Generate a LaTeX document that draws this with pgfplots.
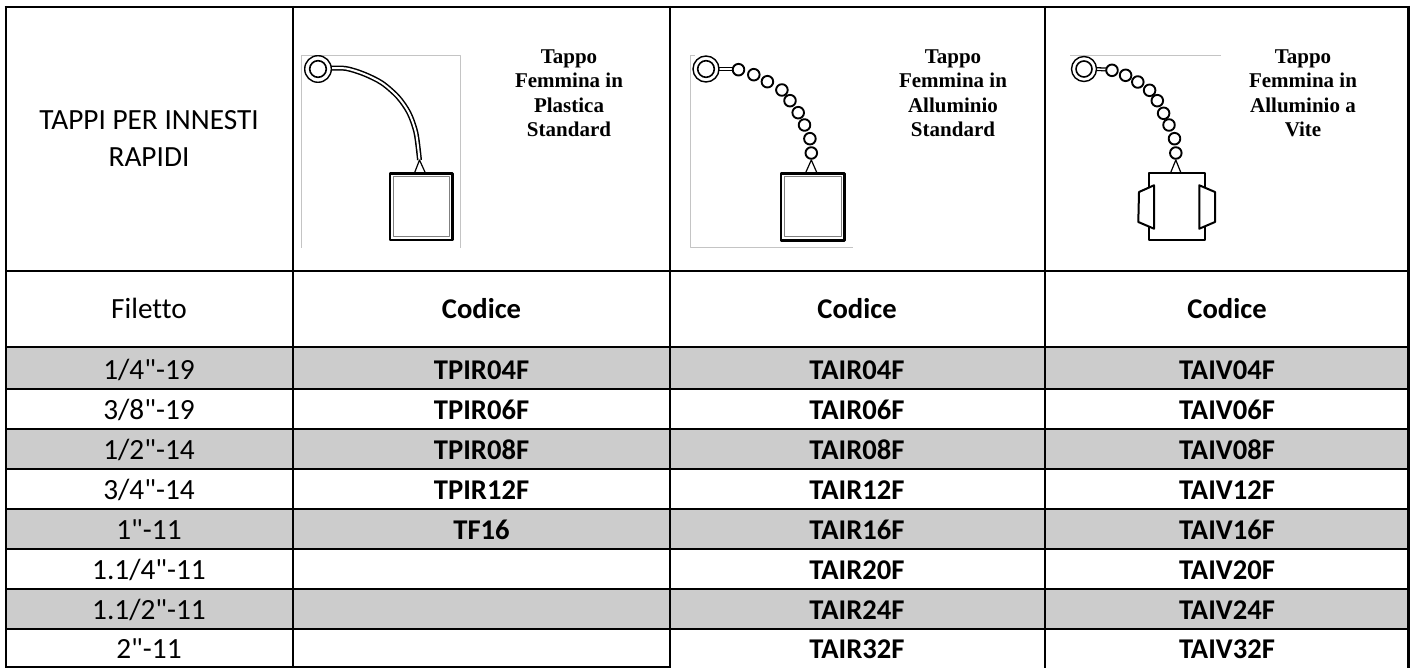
\documentclass[border=0pt]{standalone}
\usepackage{pgfplots}
\pgfplotsset{compat=1.18}
\usepackage{fontspec}
\setmainfont{Carlito}
\newfontfamily\carl[Ligatures=NoCommon]{Carlito}
\newfontfamily\tms{Liberation Serif}
\definecolor{band}{HTML}{CCCCCC}
\definecolor{frame}{HTML}{C4C4C4}
\newcommand{\sz}{\fontsize{29.3}{30}\selectfont\carl}
\newcommand{\szb}{\fontsize{28.6}{30}\selectfont\carl\bfseries}
\newcommand{\szr}{\fontsize{21}{24}\selectfont}
\newcommand{\cell}[3]{\node[anchor=base,inner sep=0pt] at (axis cs:#1,#2) {#3};}
\begin{document}
\begin{tikzpicture}
\path[use as bounding box] (0,0) rectangle (1410pt,668pt);
\begin{axis}[
  at={(0,0)}, anchor=south west,
  scale only axis, width=1410pt, height=668pt,
  xmin=0, xmax=1410, ymin=0, ymax=668, y dir=reverse,
  hide axis, clip=true,
  every axis plot/.append style={mark=none, line join=round}
]
% grey bands
\addplot[fill=band,draw=none] coordinates {(6,347)(1408,347)(1408,389)(6,389)} --cycle;
\addplot[fill=band,draw=none] coordinates {(6,429)(1408,429)(1408,469)(6,469)} --cycle;
\addplot[fill=band,draw=none] coordinates {(6,509)(1408,509)(1408,549)(6,549)} --cycle;
\addplot[fill=band,draw=none] coordinates {(6,589)(1408,589)(1408,629)(6,629)} --cycle;
% horizontal rules
\addplot[black,line width=2.3pt] coordinates {(4.5,7)(1410,7)};
\addplot[black,line width=2.3pt] coordinates {(5,271)(1409,271)};
\addplot[black,line width=2.3pt] coordinates {(5,347)(1409,347)};
\addplot[black,line width=2pt] coordinates {(5,389)(1409,389)};
\addplot[black,line width=2pt] coordinates {(5,429)(1409,429)};
\addplot[black,line width=2pt] coordinates {(5,469)(1409,469)};
\addplot[black,line width=2pt] coordinates {(5,509)(1409,509)};
\addplot[black,line width=2pt] coordinates {(5,549)(1409,549)};
\addplot[black,line width=2pt] coordinates {(5,589)(1409,589)};
\addplot[black,line width=2pt] coordinates {(5,629)(1409,629)};
\addplot[black,line width=1.5pt] coordinates {(5,667)(670,667)};
% vertical rules
\addplot[black,line width=2pt] coordinates {(6,6)(6,668)};
\addplot[black,line width=2pt] coordinates {(293,6)(293,668)};
\addplot[black,line width=2pt] coordinates {(670,6)(670,668)};
\addplot[black,line width=2pt] coordinates {(1045,6)(1045,668)};
\addplot[black,line width=2.5pt] coordinates {(1408.7,6)(1408.7,668)};
% grey picture frames
\addplot[frame,line width=0.9pt] coordinates {(301,248)(301,55.5)(460.5,55.5)(460.5,248)};
\addplot[frame,line width=0.9pt] coordinates {(695,55.5)(690.5,55.5)(690.5,247.5)(853,247.5)};
\addplot[frame,line width=0.9pt] coordinates {(1070,55.5)(1220.5,55.5)};
% picture 1: cord
\addplot[black,smooth,line width=5pt] coordinates {(328,68.3)(346,68.5)(364,74)(382,83)(398,97)(409,113)(416,133)(419.5,160)};
\addplot[white,smooth,line width=2pt] coordinates {(328,68.3)(346,68.5)(364,74)(382,83)(398,97)(409,113)(416,133)(419.5,160)};
\addplot[black,line width=1.2pt] coordinates {(414.5,173)(419.5,160)(425.4,173)};
\addplot[only marks,mark=*,mark size=13.3pt,mark options={draw=black,fill=white,line width=1.4pt}] coordinates {(318,69)};
\addplot[only marks,mark=*,mark size=8.3pt,mark options={draw=black,fill=white,line width=1.6pt}] coordinates {(318,69)};
\addplot[black,line width=2.4pt,fill=white] coordinates {(390,173.5)(452.5,173.5)(452.5,240)(390,240)} --cycle;
\addplot[gray,line width=1pt] coordinates {(393.5,177)(449,177)(449,236.5)(393.5,236.5)} --cycle;
% picture 2: chain
\addplot[black,line width=4pt] coordinates {(718,69)(734,69)};
\addplot[white,line width=1.4pt] coordinates {(718,69)(734,69)};
\addplot[black,line width=1.2pt] coordinates {(805.5,173)(811.3,160)(817,173)};
\addplot[only marks,mark=*,mark size=5.8pt,mark options={draw=black,fill=white,line width=1.9pt}] coordinates {(738.5,69.7)(753.8,74.7)(767.4,81.7)(781.9,90)(790,100.7)(798.2,112.7)(804.5,125)(809.9,138.7)(811.3,153)};
\addplot[only marks,mark=*,mark size=13pt,mark options={draw=black,fill=white,line width=1.4pt}] coordinates {(706,69)};
\addplot[only marks,mark=*,mark size=8.3pt,mark options={draw=black,fill=white,line width=1.6pt}] coordinates {(706,69)};
\addplot[black,line width=2.4pt,fill=white] coordinates {(781,173.5)(844.5,173.5)(844.5,240.5)(781,240.5)} --cycle;
\addplot[gray,line width=1pt] coordinates {(784.5,177)(841,177)(841,237)(784.5,237)} --cycle;
% picture 3: chain and threaded cap
\addplot[black,line width=4pt] coordinates {(1094,69)(1108,69.5)};
\addplot[white,line width=1.4pt] coordinates {(1094,69)(1108,69.5)};
\addplot[black,line width=1.2pt] coordinates {(1170.5,173)(1175.8,160)(1181,173)};
\addplot[only marks,mark=*,mark size=5.8pt,mark options={draw=black,fill=white,line width=1.9pt}] coordinates {(1112,70.3)(1125.6,75.3)(1137.8,82)(1149.6,90.3)(1157.3,100.7)(1163.6,113.3)(1169,125)(1174.5,138.7)(1175.8,153)};
\addplot[only marks,mark=*,mark size=12.5pt,mark options={draw=black,fill=white,line width=1.4pt}] coordinates {(1084,69)};
\addplot[only marks,mark=*,mark size=8pt,mark options={draw=black,fill=white,line width=1.6pt}] coordinates {(1084,69)};
\addplot[black,line width=2pt,fill=white] coordinates {(1149,173.5)(1204.5,173.5)(1204.5,240.5)(1149,240.5)} --cycle;
\addplot[black,line width=2pt,fill=white] coordinates {(1154,185.3)(1139,192)(1138.3,222)(1154,228.7)} --cycle;
\addplot[black,line width=2pt,fill=white] coordinates {(1199.3,185.3)(1215,192)(1215,222)(1199.3,228.7)} --cycle;
% header text
\cell{149}{129.3}{\sz TAPPI PER INNESTI}
\cell{149}{166.7}{\sz RAPIDI}
\cell{569}{64}{\szr\tms\bfseries Tappo}
\cell{569}{88}{\szr\tms\bfseries Femmina in}
\cell{569}{112.3}{\szr\tms\bfseries Plastica}
\cell{569}{136.7}{\szr\tms\bfseries Standard}
\cell{953}{64}{\szr\tms\bfseries Tappo}
\cell{953}{88}{\szr\tms\bfseries Femmina in}
\cell{953}{112.3}{\szr\tms\bfseries Alluminio}
\cell{953}{136.7}{\szr\tms\bfseries Standard}
\cell{1303}{64}{\szr\tms\bfseries Tappo}
\cell{1303}{88}{\szr\tms\bfseries Femmina in}
\cell{1303}{112.3}{\szr\tms\bfseries Alluminio a}
\cell{1303}{136.7}{\szr\tms\bfseries Vite}
\cell{149}{318.5}{\sz Filetto}
\cell{481.5}{318.5}{\szb Codice}
\cell{857}{318.5}{\szb Codice}
\cell{1227}{318.5}{\szb Codice}
% body
\cell{149}{379}{\sz 1/4"-19}
\cell{481.5}{379}{\szb TPIR04F}
\cell{857}{379}{\szb TAIR04F}
\cell{1227}{379}{\szb TAIV04F}
\cell{149}{419}{\sz 3/8"-19}
\cell{481.5}{419}{\szb TPIR06F}
\cell{857}{419}{\szb TAIR06F}
\cell{1227}{419}{\szb TAIV06F}
\cell{149}{459}{\sz 1/2"-14}
\cell{481.5}{459}{\szb TPIR08F}
\cell{857}{459}{\szb TAIR08F}
\cell{1227}{459}{\szb TAIV08F}
\cell{149}{499}{\sz 3/4"-14}
\cell{481.5}{499}{\szb TPIR12F}
\cell{857}{499}{\szb TAIR12F}
\cell{1227}{499}{\szb TAIV12F}
\cell{149}{539}{\sz 1"-11}
\cell{481.5}{539}{\szb TF16}
\cell{857}{539}{\szb TAIR16F}
\cell{1227}{539}{\szb TAIV16F}
\cell{149}{579}{\sz 1.1/4"-11}
\cell{857}{579}{\szb TAIR20F}
\cell{1227}{579}{\szb TAIV20F}
\cell{149}{619}{\sz 1.1/2"-11}
\cell{857}{619}{\szb TAIR24F}
\cell{1227}{619}{\szb TAIV24F}
\cell{149}{658.5}{\sz 2"-11}
\cell{857}{658.5}{\szb TAIR32F}
\cell{1227}{658.5}{\szb TAIV32F}
\end{axis}
\end{tikzpicture}
\end{document}
